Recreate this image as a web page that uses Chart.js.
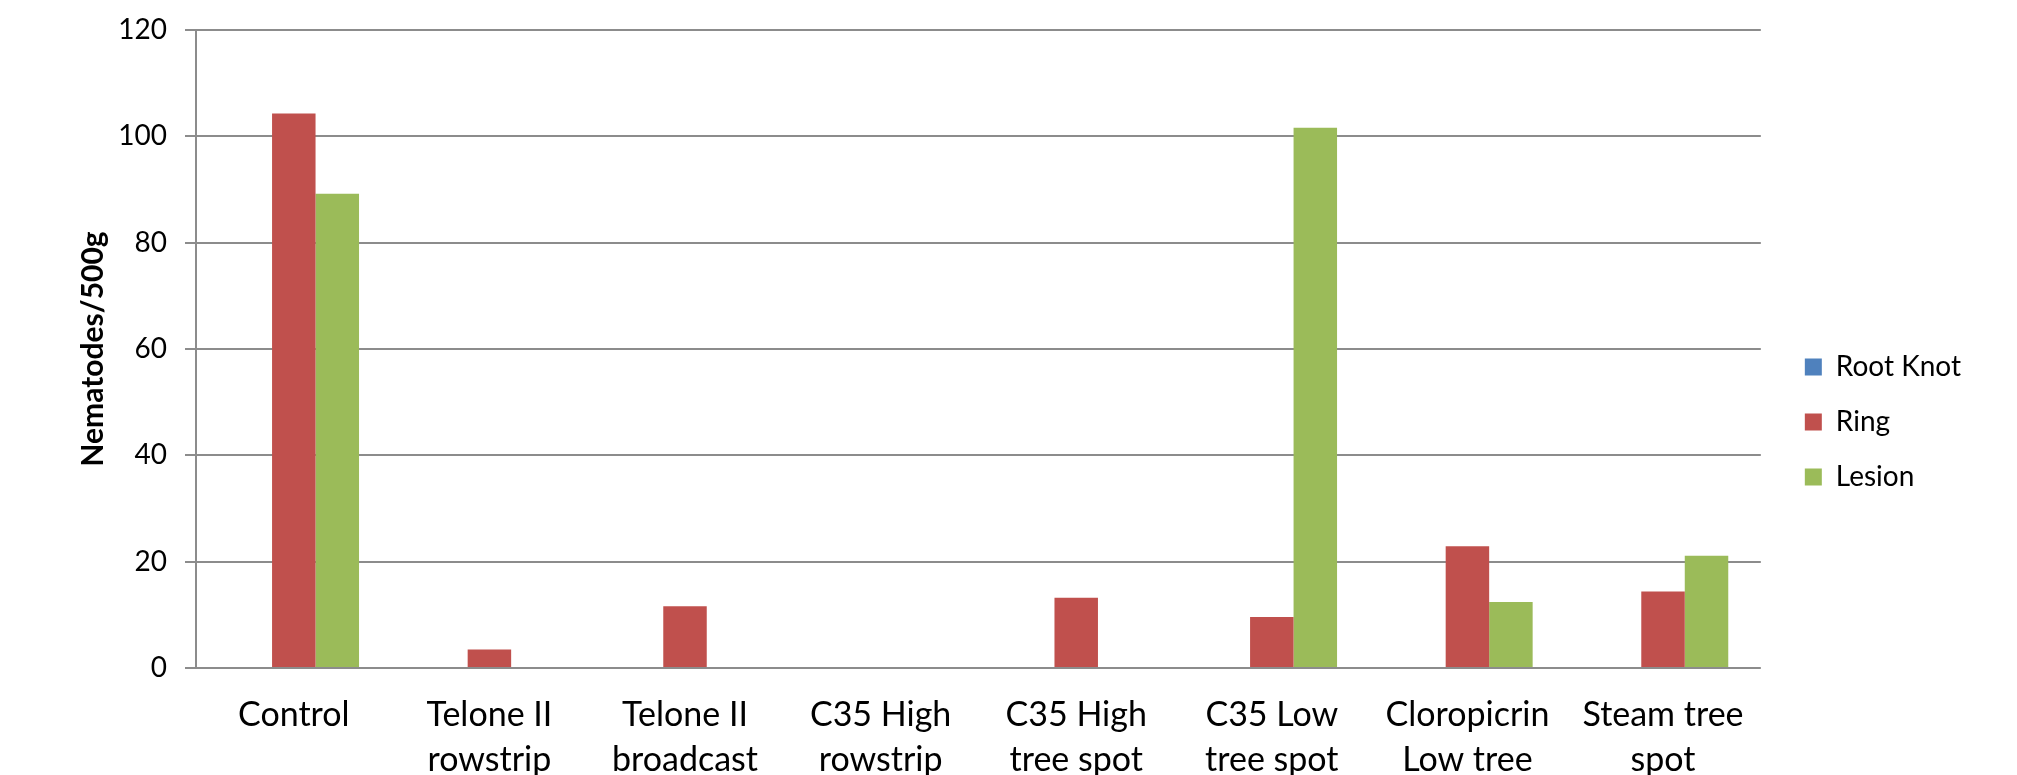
<!DOCTYPE html>
<html>
<head>
<meta charset="utf-8">
<script src="https://cdn.jsdelivr.net/npm/chart.js@4/dist/chart.umd.min.js"></script>
<style>
  html, body { margin: 0; padding: 0; background: #fff; }
  #wrap { width: 2017px; height: 775px; }
</style>
</head>
<body>
<div id="wrap"><canvas id="chartNematodes" width="2017" height="775"></canvas></div>
<script>
/* ========== DADOS ========== */
const categorias = [
    'Control',
    ['Telone II', 'rowstrip'],
    ['Telone II', 'broadcast'],
    ['C35 High', 'rowstrip'],
    ['C35 High', 'tree spot'],
    ['C35 Low', 'tree spot'],
    ['Cloropicrin', 'Low tree', 'spot'],
    ['Steam tree', 'spot']
];
const rootKnot = [0, 0, 0, 0, 0, 0, 0, 0];
const ring     = [104.3, 3.5, 11.6, 0, 13.2, 9.6, 22.9, 14.4];
const lesion   = [89.2, 0, 0, 0, 0, 101.6, 12.4, 21.1];
const yTicks   = [0, 20, 40, 60, 80, 100, 120];

/* ========== ESTILO ========== */
const FONT = 'Lato, "Open Sans", sans-serif';
const GRID = '#8c8c8c';

// desloca a legenda para a direita do gráfico, centrada verticalmente
const legendaPos = {
    id: 'legendaPos',
    afterLayout(chart) {
        const lg = chart.legend;
        const w = lg.right - lg.left;
        const h = lg.bottom - lg.top;
        lg.left = chart.chartArea.right + 17;
        lg.right = lg.left + w;
        lg.top = 422 - h / 2;
        lg.bottom = lg.top + h;
    }
};

const ctx = document.getElementById('chartNematodes').getContext('2d');
new Chart(ctx, {
    type: 'bar',
    data: {
        labels: categorias,
        datasets: [
            { label: 'Root Knot', data: rootKnot, backgroundColor: '#4f81bd' },
            { label: 'Ring', data: ring, backgroundColor: '#c0504d' },
            { label: 'Lesion', data: lesion, backgroundColor: '#9bbb59' }
        ]
    },
    options: {
        responsive: false,
        animation: false,
        layout: { padding: { top: 30, right: 63, bottom: 0, left: 0 } },
        datasets: {
            bar: { categoryPercentage: 0.667, barPercentage: 1 }
        },
        plugins: {
            tooltip: { enabled: false },
            legend: {
                position: 'right',
                labels: {
                    color: '#000',
                    boxWidth: 17,
                    boxHeight: 17,
                    padding: 27,
                    font: { family: FONT, size: 28 }
                }
            }
        },
        scales: {
            x: {
                grid: { display: false },
                border: { display: false },
                ticks: {
                    color: '#000',
                    padding: 17,
                    maxRotation: 0,
                    autoSkip: false,
                    font: { family: FONT, size: 34, lineHeight: 45 / 34 }
                },
                afterFit(s) { s.height = 107; }
            },
            y: {
                min: 0,
                max: 120,
                afterBuildTicks(s) { s.ticks = yTicks.map(v => ({ value: v })); },
                grid: { color: GRID, lineWidth: 2, tickLength: 11 },
                border: { color: GRID, width: 2 },
                ticks: {
                    color: '#000',
                    padding: 18,
                    font: { family: FONT, size: 28 }
                },
                title: {
                    display: true,
                    text: 'Nematodes/500g',
                    color: '#000',
                    padding: { top: 75, bottom: 0 },
                    font: { family: FONT, size: 30, weight: 'bold' }
                },
                afterFit(s) {
                    s.width = 196;
                    s.paddingTop = 0; // o topo fica só com o padding do layout
                }
            }
        }
    },
    plugins: [legendaPos]
});
</script>
</body>
</html>
